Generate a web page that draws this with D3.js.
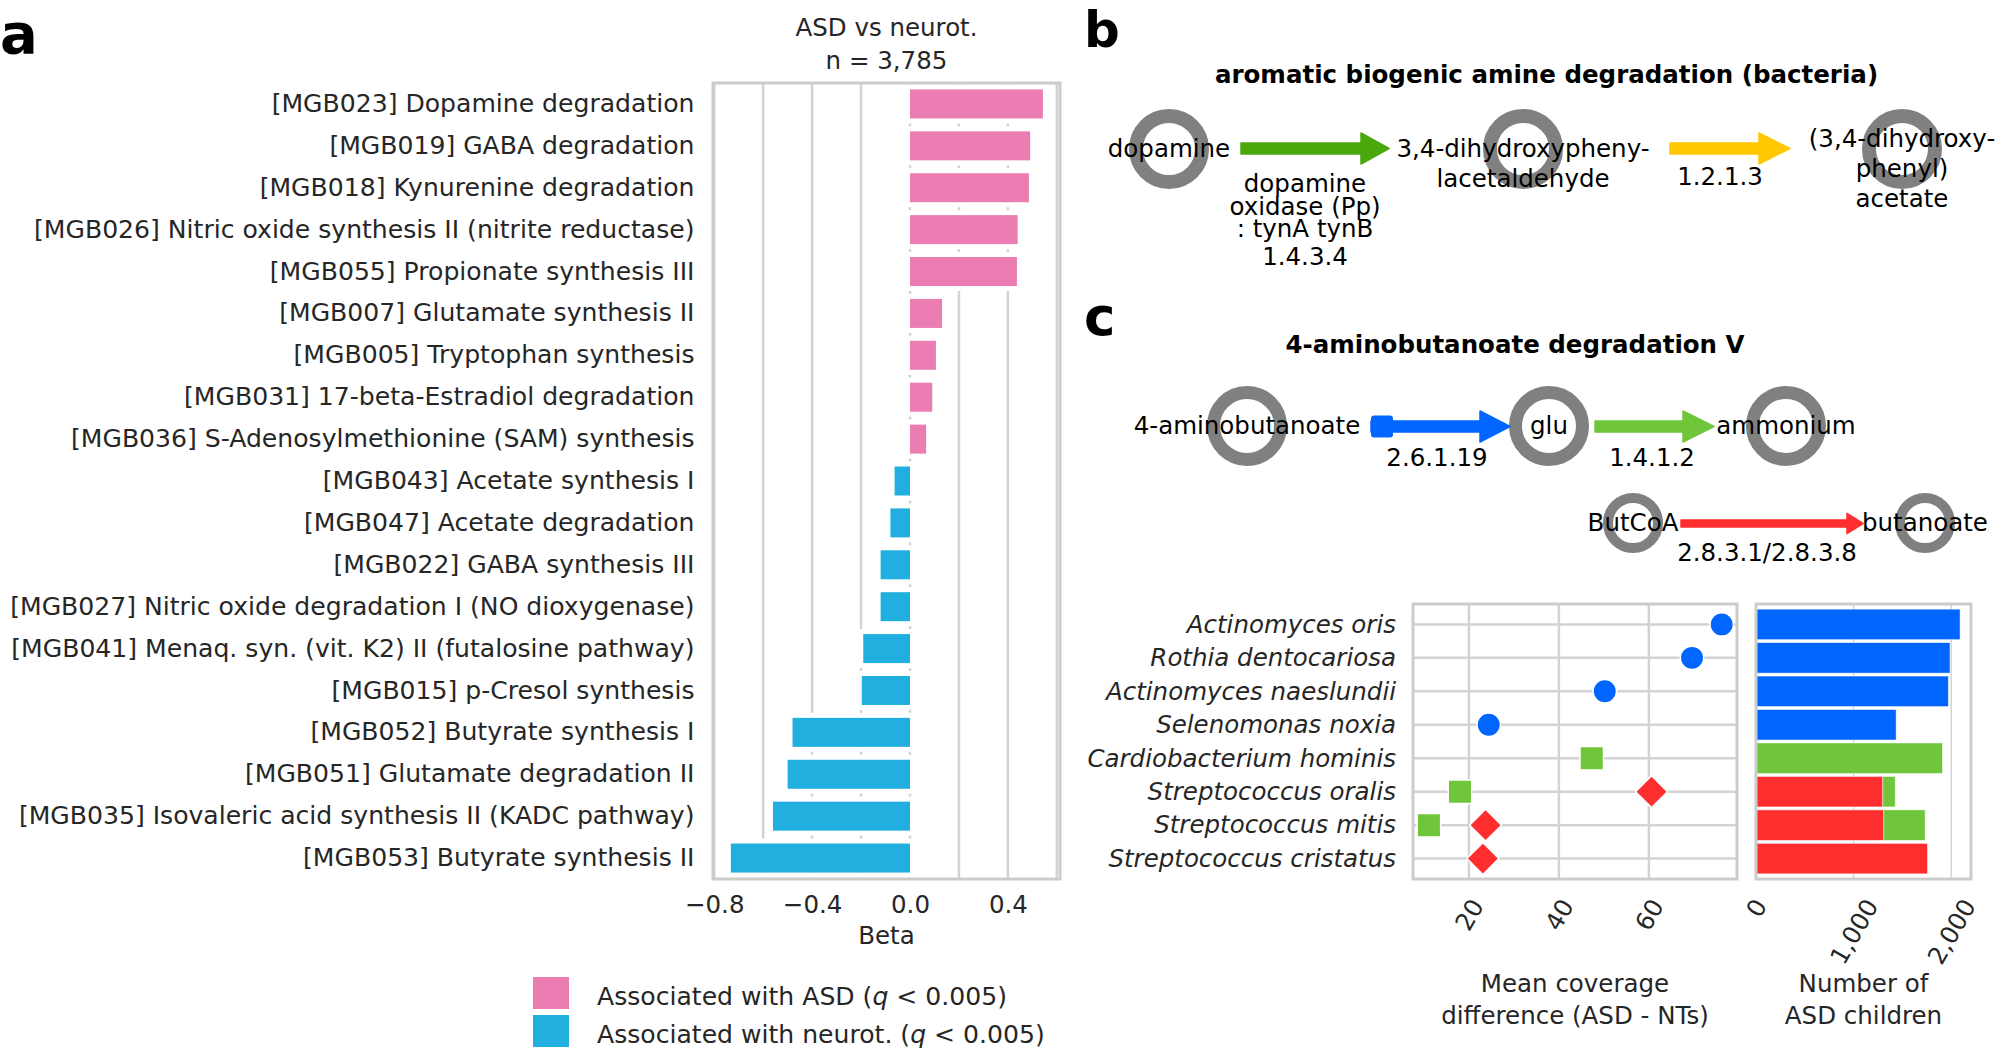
<!DOCTYPE html>
<html>
<head>
<meta charset="utf-8">
<script src="https://cdn.jsdelivr.net/npm/d3@7"></script>
<style>
body { margin: 0; background: #fff; }
text { font-family: "DejaVu Sans", sans-serif; }
</style>
</head>
<body>
<svg id="fig" width="1998" height="1053"></svg>
<script>
FONT_SIZE = 24.5;
FONT_SIZE_A = 25.1;
TEXT_COLOR = "#262626";
FRAME_COLOR = "#cccccc";
GRID_COLOR = "#d3d3d3";
NODE_COLOR = "#808080";

// ---- panel a data
var PATHWAYS = [
    "[MGB023] Dopamine degradation",
    "[MGB019] GABA degradation",
    "[MGB018] Kynurenine degradation",
    "[MGB026] Nitric oxide synthesis II (nitrite reductase)",
    "[MGB055] Propionate synthesis III",
    "[MGB007] Glutamate synthesis II",
    "[MGB005] Tryptophan synthesis",
    "[MGB031] 17-beta-Estradiol degradation",
    "[MGB036] S-Adenosylmethionine (SAM) synthesis",
    "[MGB043] Acetate synthesis I",
    "[MGB047] Acetate degradation",
    "[MGB022] GABA synthesis III",
    "[MGB027] Nitric oxide degradation I (NO dioxygenase)",
    "[MGB041] Menaq. syn. (vit. K2) II (futalosine pathway)",
    "[MGB015] p-Cresol synthesis",
    "[MGB052] Butyrate synthesis I",
    "[MGB051] Glutamate degradation II",
    "[MGB035] Isovaleric acid synthesis II (KADC pathway)",
    "[MGB053] Butyrate synthesis II"
];
var BETAS = [0.543, 0.491, 0.486, 0.440, 0.437, 0.131, 0.106, 0.091, 0.066,
             -0.063, -0.080, -0.120, -0.120, -0.191, -0.197, -0.480, -0.500, -0.560, -0.732];
var BETA_TICKS = [-0.8, -0.4, 0.0, 0.4];
var BETA_GRID = [-0.8, -0.6, -0.4, -0.2, 0.0, 0.2, 0.4, 0.6];
var LEGEND_GROUPS = ["Associated with ASD", "Associated with neurot."];

// ---- panel b data
var PATH_B_TITLE = "aromatic biogenic amine degradation (bacteria)";
var PATH_B_NODES = [["dopamine"], ["3,4-dihydroxypheny-", "lacetaldehyde"], ["(3,4-dihydroxy-", "phenyl)", "acetate"]];
var PATH_B_ENZYMES = [["dopamine", "oxidase (Pp)", ": tynA tynB"], []];
var PATH_B_EC = ["1.4.3.4", "1.2.1.3"];

// ---- panel c data
var PATH_C_TITLE = "4-aminobutanoate degradation V";
var PATH_C_NODES = ["4-aminobutanoate", "glu", "ammonium", "ButCoA", "butanoate"];
var PATH_C_EC = ["2.6.1.19", "1.4.1.2", "2.8.3.1/2.8.3.8"];

var SPECIES = ["Actinomyces oris", "Rothia dentocariosa", "Actinomyces naeslundii",
               "Selenomonas noxia", "Cardiobacterium hominis", "Streptococcus oralis",
               "Streptococcus mitis", "Streptococcus cristatus"];
var COVERAGE_SPECIES = ["Actinomyces oris", "Rothia dentocariosa", "Actinomyces naeslundii",
                        "Selenomonas noxia", "Cardiobacterium hominis", "Streptococcus oralis",
                        "Streptococcus oralis", "Streptococcus mitis", "Streptococcus mitis",
                        "Streptococcus cristatus"];
var COVERAGE_EC = ["2.6.1.19", "2.6.1.19", "2.6.1.19", "2.6.1.19", "1.4.1.2", "1.4.1.2",
                   "2.8.3.1/2.8.3.8", "1.4.1.2", "2.8.3.1/2.8.3.8", "2.8.3.1/2.8.3.8"];
var COVERAGE_DIFF = [76.2, 69.6, 50.2, 24.4, 47.3, 18.0, 60.6, 11.1, 23.7, 23.1];
var COVERAGE_TICKS = [20, 40, 60];
var CHILDREN_RED = [0, 0, 0, 0, 0, 1300, 1310, 1757];
var CHILDREN_BLUE = [2091, 1988, 1971, 1436, 0, 0, 0, 0];
var CHILDREN_GREEN = [0, 0, 0, 0, 1910, 126, 423, 0];
var CHILDREN_TICKS = [0, 1000, 2000];

var EC_COLOR = { "2.6.1.19": "#0066ff", "1.4.1.2": "#70c63a", "2.8.3.1/2.8.3.8": "#ff2e2e" };
var EC_SYMBOL = { "2.6.1.19": d3.symbolCircle, "1.4.1.2": d3.symbolSquare, "2.8.3.1/2.8.3.8": d3.symbolSquare };

var svg = d3.select("#fig");

function main() {
    drawPanelLetters();
    drawPanelA();
    drawPanelB();
    drawPathwayC();
    drawCoverage();
}

function drawPanelLetters() {
    svg.append("text").attr("x", 0).attr("y", 52.5)
        .style("font-size", "56px").style("font-weight", "bold").text("a");
    svg.append("text").attr("x", 1084).attr("y", 46.5)
        .style("font-size", "50px").style("font-weight", "bold").text("b");
    svg.append("text").attr("x", 1084).attr("y", 335)
        .style("font-size", "53px").style("font-weight", "bold").text("c");
}

function styleAxisText(axisG, size) {
    axisG.select(".domain").remove();
    axisG.selectAll("text")
        .style("font-size", (size || FONT_SIZE) + "px")
        .style("font-family", "'DejaVu Sans', sans-serif")
        .attr("fill", TEXT_COLOR);
}

function drawFrame(g, box) {
    g.append("rect")
        .attr("x", box.left).attr("y", box.top)
        .attr("width", box.right - box.left).attr("height", box.bottom - box.top)
        .attr("fill", "none").attr("stroke", FRAME_COLOR).attr("stroke-width", 3);
}

function drawPanelA() {
    var box = { left: 713, right: 1060, top: 83, bottom: 879 };
    var x = d3.scaleLinear().domain([-0.805, 0.613]).range([box.left, box.right]);
    var y = d3.scaleBand().domain(PATHWAYS).range([box.top, box.bottom]);
    var g = svg.append("g");

    g.selectAll(".grid").data(BETA_GRID).enter().append("line")
        .attr("x1", function(d) { return x(d); }).attr("x2", function(d) { return x(d); })
        .attr("y1", box.top).attr("y2", box.bottom)
        .attr("stroke", GRID_COLOR).attr("stroke-width", 2.5);

    // white halo round each bar hides the grid, leaving short dashes between rows
    var barH = 29;
    g.selectAll(".bar").data(BETAS).enter().append("rect")
        .attr("x", function(d) { return x(Math.min(0, d)); })
        .attr("width", function(d) { return Math.abs(x(d) - x(0)); })
        .attr("y", function(d, i) { return y(PATHWAYS[i]) + (y.bandwidth() - barH) / 2; })
        .attr("height", barH)
        .attr("fill", function(d) { return d > 0 ? "#ec7db3" : "#21afdf"; })
        .attr("stroke", "#fff").attr("stroke-width", 10)
        .style("paint-order", "stroke");

    drawFrame(g, box);

    var yAxis = g.append("g")
        .attr("transform", "translate(" + box.left + ",0)")
        .call(d3.axisLeft(y).tickSize(0).tickPadding(18.5));
    styleAxisText(yAxis, FONT_SIZE_A);

    var xAxis = g.append("g")
        .attr("transform", "translate(0," + box.bottom + ")")
        .call(d3.axisBottom(x).tickValues(BETA_TICKS).tickSize(0).tickPadding(16.5)
              .tickFormat(d3.format(".1f")));
    styleAxisText(xAxis);

    g.append("text").attr("x", 886.5).attr("y", 944)
        .attr("text-anchor", "middle").attr("fill", TEXT_COLOR)
        .style("font-size", FONT_SIZE + "px").text("Beta");
    g.append("text").attr("x", 886.5).attr("y", 36)
        .attr("text-anchor", "middle").attr("fill", TEXT_COLOR)
        .style("font-size", FONT_SIZE + "px").text("ASD vs neurot.");
    g.append("text").attr("x", 886.5).attr("y", 68.5)
        .attr("text-anchor", "middle").attr("fill", TEXT_COLOR)
        .style("font-size", FONT_SIZE + "px").text("n = 3,785");

    // legend
    var legendColors = ["#ec7db3", "#21afdf"];
    var legend = g.selectAll(".legend").data(LEGEND_GROUPS).enter().append("g")
        .attr("class", "legend")
        .attr("transform", function(d, i) { return "translate(533," + (977 + 38 * i) + ")"; });
    legend.append("rect").attr("width", 36).attr("height", 32)
        .attr("fill", function(d, i) { return legendColors[i]; });
    var lt = legend.append("text").attr("x", 64).attr("y", 28)
        .attr("fill", TEXT_COLOR).style("font-size", FONT_SIZE_A + "px");
    lt.append("tspan").text(function(d) { return d + " ("; });
    lt.append("tspan").style("font-style", "italic").text("q");
    lt.append("tspan").text(" < 0.005)");
}

function drawArrow(g, a) {
    var hs = a.shaft / 2, hh = a.head / 2, xh = a.x2 - a.headLen;
    var p = d3.path();
    p.moveTo(a.x1, a.y - hs);
    p.lineTo(xh, a.y - hs);
    p.lineTo(xh, a.y - hh);
    p.lineTo(a.x2, a.y);
    p.lineTo(xh, a.y + hh);
    p.lineTo(xh, a.y + hs);
    p.lineTo(a.x1, a.y + hs);
    p.closePath();
    g.append("path").attr("d", p.toString())
        .attr("fill", a.color).attr("stroke", a.color)
        .attr("stroke-width", 1.5).attr("stroke-linejoin", "round");
    if (a.tail) {
        g.append("rect").attr("x", a.x1).attr("y", a.y - a.tail / 2)
            .attr("width", a.tail).attr("height", a.tail).attr("rx", 3)
            .attr("fill", a.color);
    }
}

function multiLine(g, lines, x, y0, step, size, weight) {
    var t = g.append("text").attr("x", x).attr("y", y0)
        .attr("text-anchor", "middle").attr("fill", "#000")
        .style("font-size", size + "px").style("font-weight", weight || "normal");
    t.selectAll("tspan").data(lines).enter().append("tspan")
        .attr("x", x).attr("dy", function(d, i) { return i === 0 ? 0 : step; })
        .text(function(d) { return d; });
    return t;
}

function drawPanelB() {
    var g = svg.append("g");
    var nodeX = [1169, 1523, 1902];
    var nodeY = 149;
    var nodeTop = [157, 157, 147];
    var arrows = [
        { x1: 1241, x2: 1389, y: 148.5, shaft: 11, head: 31, headLen: 28, color: "#4aa70c" },
        { x1: 1670, x2: 1790, y: 148.5, shaft: 11, head: 31, headLen: 31, color: "#ffc800" }
    ];
    var ecX = [1305, 1720];

    multiLine(g, [PATH_B_TITLE], 1546.5, 83, 0, FONT_SIZE, "bold");

    g.selectAll(".node").data(PATH_B_NODES).enter().append("circle")
        .attr("cx", function(d, i) { return nodeX[i]; }).attr("cy", nodeY)
        .attr("r", 33).attr("fill", "none")
        .attr("stroke", NODE_COLOR).attr("stroke-width", 14);

    arrows.forEach(function(a) { drawArrow(g, a); });

    PATH_B_NODES.forEach(function(lines, i) {
        multiLine(g, lines, nodeX[i], nodeTop[i], 30, FONT_SIZE);
    });
    PATH_B_ENZYMES.forEach(function(lines, i) {
        if (lines.length) multiLine(g, lines, ecX[i], 192, 22.5, FONT_SIZE);
    });
    multiLine(g, [PATH_B_EC[0]], ecX[0], 264.5, 0, FONT_SIZE);
    multiLine(g, [PATH_B_EC[1]], ecX[1], 184.5, 0, FONT_SIZE);
}

function drawPathwayC() {
    var g = svg.append("g");
    var nodeX = [1247, 1549, 1786, 1633, 1925];
    var nodeY = [426, 426, 426, 523, 523];
    var nodeR = [33.5, 33.5, 33.5, 25, 25];
    var nodeW = [13, 13, 13, 10, 10];
    var arrows = [
        { x1: 1371, x2: 1510, y: 426.5, shaft: 11, head: 31, headLen: 30, tail: 22, color: EC_COLOR[PATH_C_EC[0]] },
        { x1: 1595, x2: 1714, y: 426.5, shaft: 11, head: 31, headLen: 31, color: EC_COLOR[PATH_C_EC[1]] },
        { x1: 1681, x2: 1863, y: 523.5, shaft: 7, head: 20, headLen: 16, color: EC_COLOR[PATH_C_EC[2]] }
    ];
    var ecX = [1437, 1652, 1767];
    var ecY = [466, 466, 561];

    multiLine(g, [PATH_C_TITLE], 1515, 353, 0, FONT_SIZE, "bold");

    g.selectAll(".node").data(PATH_C_NODES).enter().append("circle")
        .attr("cx", function(d, i) { return nodeX[i]; })
        .attr("cy", function(d, i) { return nodeY[i]; })
        .attr("r", function(d, i) { return nodeR[i]; })
        .attr("fill", "none").attr("stroke", NODE_COLOR)
        .attr("stroke-width", function(d, i) { return nodeW[i]; });

    arrows.forEach(function(a) { drawArrow(g, a); });

    PATH_C_NODES.forEach(function(name, i) {
        multiLine(g, [name], nodeX[i], nodeY[i] + 7.5, 0, FONT_SIZE);
    });
    PATH_C_EC.forEach(function(ec, i) {
        multiLine(g, [ec], ecX[i], ecY[i], 0, FONT_SIZE);
    });
}

function rotatedTicks(axisG, top) {
    // rotated by 60 degrees, bbox centred under the tick like matplotlib does
    axisG.selectAll(".tick text").each(function() {
        var t = d3.select(this);
        var len = this.getComputedTextLength();
        var h = len * Math.sin(Math.PI / 3) + 17 * 0.5;
        t.attr("text-anchor", "middle").attr("dy", null).attr("y", null)
            .attr("dominant-baseline", "central")
            .attr("transform", "translate(0," + (top + h / 2) + ") rotate(-60)");
    });
}

function drawCoverage() {
    var g = svg.append("g");
    var dotBox = { left: 1413, right: 1737, top: 604, bottom: 879 };
    var barBox = { left: 1756, right: 1971, top: 604, bottom: 879 };

    var y = d3.scalePoint().domain(SPECIES).range([dotBox.top, dotBox.bottom]).padding(0.61);
    var x = d3.scaleLinear().domain([7.56, 79.6]).range([dotBox.left, dotBox.right]);
    var xc = d3.scaleLinear().domain([0, 2203]).range([barBox.left, barBox.right]);

    // dot plot grid
    g.selectAll(".vgrid").data(COVERAGE_TICKS).enter().append("line")
        .attr("x1", function(d) { return x(d); }).attr("x2", function(d) { return x(d); })
        .attr("y1", dotBox.top).attr("y2", dotBox.bottom)
        .attr("stroke", GRID_COLOR).attr("stroke-width", 2.5);
    g.selectAll(".hgrid").data(SPECIES).enter().append("line")
        .attr("x1", dotBox.left).attr("x2", dotBox.right)
        .attr("y1", function(d) { return y(d); }).attr("y2", function(d) { return y(d); })
        .attr("stroke", GRID_COLOR).attr("stroke-width", 2.5);

    var symbolSize = { "2.6.1.19": 430, "1.4.1.2": 552, "2.8.3.1/2.8.3.8": 512 };
    g.selectAll(".marker").data(COVERAGE_DIFF).enter().append("path")
        .attr("d", function(d, i) {
            var ec = COVERAGE_EC[i];
            return d3.symbol().type(EC_SYMBOL[ec]).size(symbolSize[ec])();
        })
        .attr("transform", function(d, i) {
            var rot = COVERAGE_EC[i] === "2.8.3.1/2.8.3.8" ? " rotate(45)" : "";
            return "translate(" + x(d) + "," + y(COVERAGE_SPECIES[i]) + ")" + rot;
        })
        .attr("fill", function(d, i) { return EC_COLOR[COVERAGE_EC[i]]; })
        .attr("stroke", "#fff").attr("stroke-width", 1.5);

    drawFrame(g, dotBox);

    var yAxis = g.append("g")
        .attr("transform", "translate(" + dotBox.left + ",0)")
        .call(d3.axisLeft(y).tickSize(0).tickPadding(17));
    styleAxisText(yAxis);
    yAxis.selectAll("text").style("font-style", "italic");

    var xAxis = g.append("g")
        .attr("transform", "translate(0," + dotBox.bottom + ")")
        .call(d3.axisBottom(x).tickValues(COVERAGE_TICKS).tickSize(0));
    styleAxisText(xAxis);
    rotatedTicks(xAxis, 18);

    // stacked bars of children counts
    g.selectAll(".cgrid").data([1000, 2000]).enter().append("line")
        .attr("x1", function(d) { return xc(d); }).attr("x2", function(d) { return xc(d); })
        .attr("y1", barBox.top).attr("y2", barBox.bottom)
        .attr("stroke", GRID_COLOR).attr("stroke-width", 1.5);

    var rows = SPECIES.map(function(s, i) {
        return { species: s, "2.8.3.1/2.8.3.8": CHILDREN_RED[i], "2.6.1.19": CHILDREN_BLUE[i], "1.4.1.2": CHILDREN_GREEN[i] };
    });
    var stack = d3.stack().keys(["2.8.3.1/2.8.3.8", "2.6.1.19", "1.4.1.2"])(rows);
    var barH = 30.5;
    var layer = g.selectAll(".layer").data(stack).enter().append("g")
        .attr("fill", function(d) { return EC_COLOR[d.key]; });
    layer.selectAll("rect").data(function(d) { return d.filter(function(v) { return v[1] > v[0]; }); })
        .enter().append("rect")
        .attr("x", function(d) { return xc(d[0]); })
        .attr("width", function(d) { return xc(d[1]) - xc(d[0]); })
        .attr("y", function(d) { return y(d.data.species) - barH / 2; })
        .attr("height", barH)
        .attr("stroke", "#fff").attr("stroke-width", 0.8).attr("stroke-opacity", 0.6);

    drawFrame(g, barBox);

    var cAxis = g.append("g")
        .attr("transform", "translate(0," + barBox.bottom + ")")
        .call(d3.axisBottom(xc).tickValues(CHILDREN_TICKS).tickSize(0).tickFormat(d3.format(",")));
    styleAxisText(cAxis);
    rotatedTicks(cAxis, 18);

    multiTitle(g, ["Mean coverage", "difference (ASD - NTs)"], (dotBox.left + dotBox.right) / 2);
    multiTitle(g, ["Number of", "ASD children"], (barBox.left + barBox.right) / 2);
}

function multiTitle(g, lines, cx) {
    var t = g.append("text").attr("x", cx).attr("y", 992)
        .attr("text-anchor", "middle").attr("fill", TEXT_COLOR)
        .style("font-size", FONT_SIZE + "px");
    t.selectAll("tspan").data(lines).enter().append("tspan")
        .attr("x", cx).attr("dy", function(d, i) { return i === 0 ? 0 : 31.5; })
        .text(function(d) { return d; });
}

main();
</script>
</body>
</html>
